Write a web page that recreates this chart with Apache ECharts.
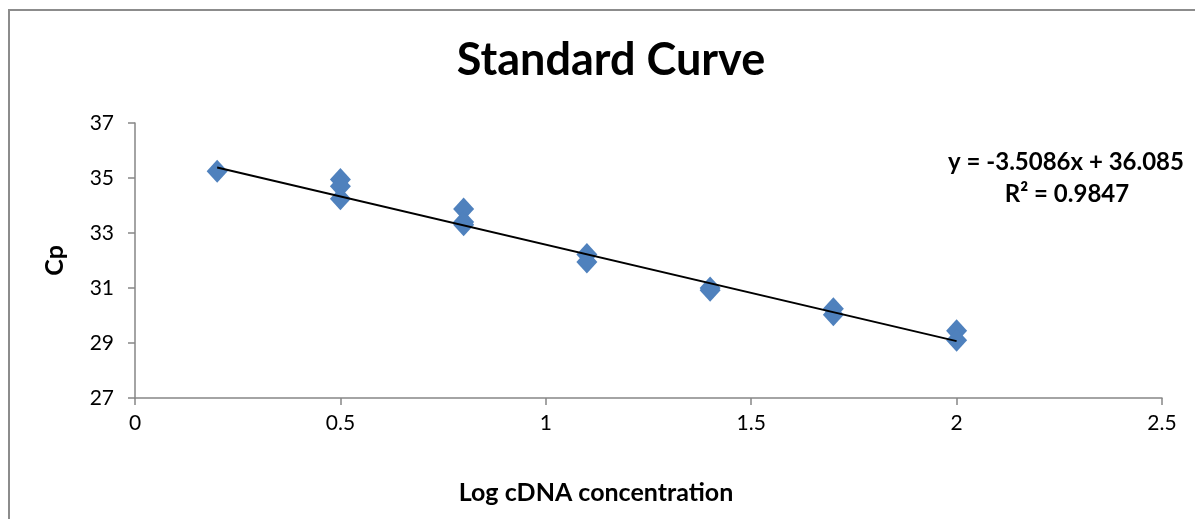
<!DOCTYPE html>
<html>
<head>
<meta charset="utf-8">
<script src="https://cdn.jsdelivr.net/npm/echarts@6/dist/echarts.min.js"></script>
<style>
  html, body { margin: 0; padding: 0; background: #fff; overflow: hidden; }
  #chart { width: 1195px; height: 519px; }
</style>
</head>
<body>
<div id="chart"></div>
<script>
// measured points (log cDNA, Cp)
var logConc = [0.2, 0.5, 0.5, 0.5, 0.8, 0.8, 0.8, 1.1, 1.1, 1.4, 1.4, 1.7, 1.7, 2.0, 2.0];
var cpValues = [35.25, 34.95, 34.7, 34.25, 33.87, 33.4, 33.3, 32.22, 31.95, 31.0, 30.92, 30.25, 30.03, 29.45, 29.1];
// linear trendline end points
var trendX = [0.2, 2.0];
var trendY = [35.383, 29.068];
var xTicks = [0, 0.5, 1, 1.5, 2, 2.5];
var yTicks = [27, 29, 31, 33, 35, 37];

var chart = echarts.init(document.getElementById('chart'));
var font = 'Lato, "Liberation Sans", sans-serif';

chart.setOption({
  animation: false,
  title: {
    text: 'Standard Curve',
    left: 606,
    top: 33,
    textAlign: 'center',
    textStyle: { fontFamily: font, fontSize: 45, fontWeight: 'bold', color: '#000' }
  },
  grid: { left: 135, right: 33, top: 123, bottom: 121, containLabel: false },
  xAxis: {
    type: 'value',
    min: xTicks[0],
    max: xTicks[xTicks.length - 1],
    interval: 0.5,
    axisLine: { show: true, onZero: false, lineStyle: { color: '#868686', width: 1.5 } },
    axisTick: { show: true, length: 7, lineStyle: { color: '#868686', width: 1.5 } },
    axisLabel: { fontFamily: font, fontSize: 21, color: '#000', margin: 15 },
    splitLine: { show: false }
  },
  yAxis: {
    type: 'value',
    min: yTicks[0],
    max: yTicks[yTicks.length - 1],
    interval: 2,
    name: 'Cp',
    nameLocation: 'middle',
    nameGap: 68,
    nameTextStyle: { fontFamily: font, fontSize: 25, fontWeight: 'bold', color: '#000' },
    axisLine: { show: true, lineStyle: { color: '#868686', width: 1.5 } },
    axisTick: { show: true, length: 7, lineStyle: { color: '#868686', width: 1.5 } },
    axisLabel: { fontFamily: font, fontSize: 21, color: '#000', margin: 21 },
    splitLine: { show: false }
  },
  series: [
    {
      type: 'line',
      data: trendX.map(function (x, i) { return [x, trendY[i]]; }),
      showSymbol: false,
      symbol: 'none',
      lineStyle: { color: '#000', width: 2 },
      z: 3
    },
    {
      type: 'scatter',
      data: logConc.map(function (x, i) { return [x, cpValues[i]]; }),
      symbol: 'diamond',
      symbolSize: [21, 23],
      itemStyle: { color: '#4F81BD', opacity: 1 },
      z: 2
    }
  ],
  graphic: [
    {
      type: 'polyline',
      shape: { points: [[9, 530], [9, 10], [1210, 10]] },
      style: { fill: 'none', stroke: '#8c8c8c', lineWidth: 2 },
      silent: true
    },
    {
      type: 'text',
      x: 596,
      y: 480,
      style: { text: 'Log cDNA concentration', font: 'bold 25px ' + font, fill: '#000', align: 'center' }
    },
    {
      type: 'text',
      x: 1066,
      y: 150,
      style: { text: 'y = -3.5086x + 36.085', font: 'bold 24px ' + font, fill: '#000', align: 'center' }
    },
    {
      type: 'text',
      x: 1067,
      y: 182,
      style: { text: 'R² = 0.9847', font: 'bold 24px ' + font, fill: '#000', align: 'center' }
    }
  ]
});
</script>
</body>
</html>
